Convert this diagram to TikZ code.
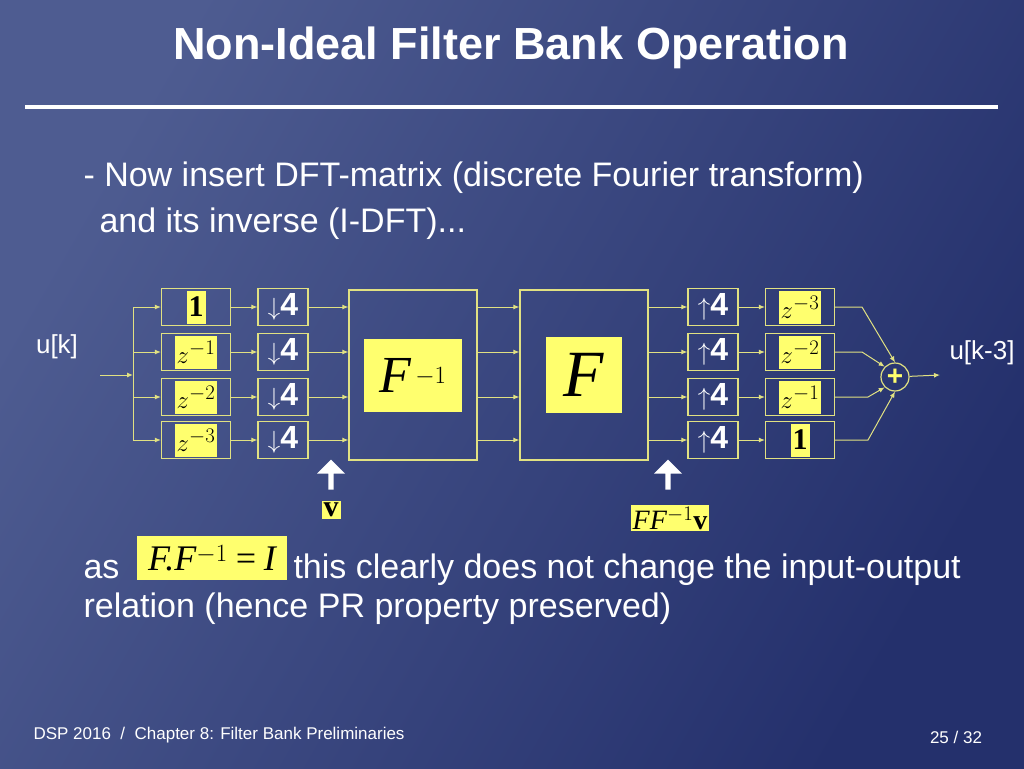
\documentclass[tikz,border=0pt]{standalone}
\usepackage{fontspec}
\setmainfont{Liberation Sans}
\newfontfamily\tms{Liberation Serif}
\usetikzlibrary{arrows.meta,shapes.arrows,positioning}
\definecolor{lin}{RGB}{225,225,130}
\definecolor{yel}{RGB}{255,255,110}
\definecolor{bgA}{RGB}{78,92,145}
\definecolor{bgB}{RGB}{36,48,108}
\tikzset{
  blk/.style={draw=lin,line width=1.2pt,minimum width=#1,minimum height=37},
  blk/.default=69,
  ylab/.style={fill=yel,text=black,inner sep=2pt},
  dlab/.style={ylab,minimum height=33,font=\tms\fontsize{30}{32}\selectfont},
  sig/.style={draw=lin,line width=1pt,-{Latex[length=6,width=5]}},
  wtxt/.style={text=white,font=\fontsize{34}{40}\selectfont}
}
\begin{document}
\begin{tikzpicture}[x=1pt,y=-1pt]
    % background
    \useasboundingbox (0,0) rectangle (1024,768);
    \shade[left color=bgA,right color=bgB,shading angle=60] (0,0) rectangle (1024,768);
    \node[text=white,font=\bfseries\fontsize{45}{50}\selectfont] (title) at (511,48) {Non-Ideal Filter Bank Operation};
    \draw[white,line width=4] (25,107) -- (998,107);
    \node[wtxt,anchor=west] (t1) at (80,178) {- Now insert DFT-matrix (discrete Fourier transform)};
    \node[wtxt,anchor=west] (t2) at (96,224) {and its inverse (I-DFT)...};
    % analysis side
    \node[text=white,font=\fontsize{26}{30}\selectfont] (uk) at (57,347) {u[k]};
    \coordinate (in) at (100,375);
    \coordinate (br) at (133,375);
    \draw[sig] (in) -- (br);
    \draw[lin,line width=1pt] (133,307) -- (133,440);
    \foreach \i/\y/\lab in {1/307/{\textbf{1}},2/352/{$z^{-1}$},3/397/{$z^{-2}$},4/440/{$z^{-3}$}}{
      \node[blk] (d\i) at (196,\y) {};
      \node[dlab] at (d\i) {\lab};
      \node[blk=50,text=white,font=\bfseries\fontsize{32}{32}\selectfont] (dn\i) at (283,\y) {$\downarrow$4};
      \draw[sig] (133,\y) -- (d\i.west);
      \draw[sig] (d\i) -- (dn\i);
    }
    % DFT blocks
    \node[draw=lin,line width=1.2pt,minimum width=128,minimum height=170] (fi) at (413,375) {};
    \node[ylab,minimum width=98,minimum height=73,font=\tms\itshape\fontsize{52}{54}\selectfont] at (fi) {F$^{\,-1}$};
    \node[draw=lin,line width=1.2pt,minimum width=128,minimum height=170] (f) at (584,375) {};
    \node[ylab,minimum width=76,minimum height=76,font=\tms\itshape\fontsize{66}{66}\selectfont] at (f) {F};
    % synthesis side
    \foreach \i/\y/\lab in {1/307/{$z^{-3}$},2/352/{$z^{-2}$},3/397/{$z^{-1}$},4/440/{\textbf{1}}}{
      \draw[sig] (dn\i.east) -- (fi.west |- dn\i);
      \draw[sig] (fi.east |- dn\i) -- (f.west |- dn\i);
      \node[blk=50,text=white,font=\bfseries\fontsize{32}{32}\selectfont] (up\i) at (713,\y) {$\uparrow$4};
      \node[blk] (e\i) at (800,\y) {};
      \node[dlab] at (e\i) {\lab};
      \draw[sig] (f.east |- up\i) -- (up\i.west);
      \draw[sig] (up\i) -- (e\i);
    }
    \node[draw=lin,line width=1.2pt,circle,minimum size=28,inner sep=0,text=yel,font=\bfseries\fontsize{28}{28}\selectfont] (sum) at (895,377) {+};
    \draw[sig] (e1.east) -- (862,307) -- (sum.north);
    \draw[sig] (e2.east) -- (862,352) -- (sum.north west);
    \draw[sig] (e3.east) -- (868,397) -- (sum.south west);
    \draw[sig] (e4.east) -- (868,440) -- (sum.south);
    \coordinate (out) at (940,375);
    \draw[sig] (sum) -- (out);
    \node[text=white,font=\fontsize{26}{30}\selectfont] (uk3) at (982,353) {u[k-3]};
    % vector labels
    \node[single arrow,fill=white,rotate=90,minimum height=30,minimum width=28,single arrow head extend=5,inner sep=1] (a1) at (331,476) {};
    \node[ylab,font=\tms\bfseries\fontsize{30}{30}\selectfont] (v) at (331,510) {v};
    \node[single arrow,fill=white,rotate=90,minimum height=30,minimum width=28,single arrow head extend=5,inner sep=1] (a2) at (668,476) {};
    \node[ylab,font=\tms\fontsize{28}{30}\selectfont] (ffv) at (670,518) {\textit{FF}$^{-1}$\textbf{v}};
    % bottom text
    \node[wtxt,anchor=west] (as) at (80,570) {as};
    \node[ylab,minimum width=150,minimum height=44,font=\tms\itshape\fontsize{36}{38}\selectfont] (eq) at (212,558) {F.F$^{-1}$\,=\,I};
    \node[wtxt,anchor=west] (t3) at (290,570) {this clearly does not change the input-output};
    \node[wtxt,anchor=west] (t4) at (80,609) {relation (hence PR property preserved)};
    \node[text=white,font=\fontsize{17}{20}\selectfont,anchor=west] (foot) at (30,735) {DSP 2016\ \ /\ \ Chapter 8: Filter Bank Preliminaries};
    \node[text=white,font=\fontsize{17}{20}\selectfont] (pg) at (956,737) {25 / 32};
\end{tikzpicture}
\end{document}
